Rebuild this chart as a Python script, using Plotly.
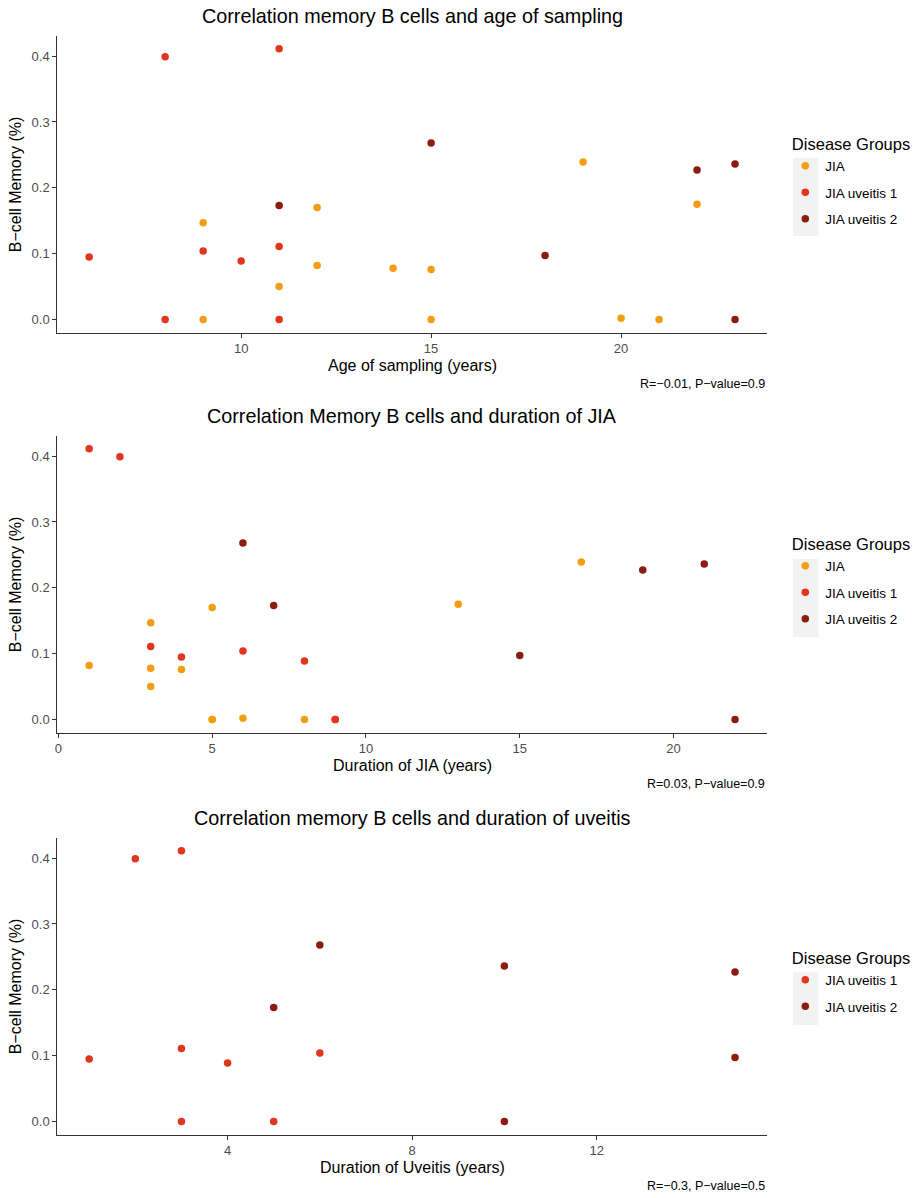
import plotly.graph_objects as go

# Patient-level measurements, grouped by disease category
groups = ["JIA", "JIA uveitis 1", "JIA uveitis 2"]
colors = {"JIA": "#F49D12", "JIA uveitis 1": "#E2351D", "JIA uveitis 2": "#8C1B11"}

memory = {
    "JIA": [0.147, 0.170, 0.082, 0.078, 0.076, 0.050, 0.239, 0.175, 0.002, 0.0, 0.0, 0.0],
    "JIA uveitis 1": [0.095, 0.399, 0.411, 0.104, 0.089, 0.111, 0.0, 0.0],
    "JIA uveitis 2": [0.268, 0.173, 0.097, 0.227, 0.236, 0.0],
}
age_sampling = {
    "JIA": [9, 12, 12, 14, 15, 11, 19, 22, 20, 9, 15, 21],
    "JIA uveitis 1": [6, 8, 11, 9, 10, 11, 8, 11],
    "JIA uveitis 2": [15, 11, 18, 22, 23, 23],
}
duration_jia = {
    "JIA": [3, 5, 1, 3, 4, 3, 17, 13, 6, 5, 8, 5],
    "JIA uveitis 1": [4, 2, 1, 6, 8, 3, 9, 9],
    "JIA uveitis 2": [6, 7, 15, 19, 21, 22],
}
duration_uveitis = {
    "JIA uveitis 1": [1, 2, 3, 6, 4, 3, 3, 5],
    "JIA uveitis 2": [6, 5, 15, 15, 10, 10],
}

titles = [
    "Correlation memory B cells and age of sampling",
    "Correlation Memory B cells and duration of JIA",
    "Correlation memory B cells and duration of uveitis",
]
x_titles = ["Age of sampling (years)", "Duration of JIA (years)", "Duration of Uveitis (years)"]
captions = ["R=\u22120.01, P\u2212value=0.9", "R=0.03, P\u2212value=0.9", "R=\u22120.3, P\u2212value=0.5"]
x_ticks = [[10, 15, 20], [0, 5, 10, 15, 20], [4, 8, 12]]
x_ranges = [[5.15, 23.85], [-0.05, 23.05], [0.3, 15.7]]
y_ticks = [0.0, 0.1, 0.2, 0.3, 0.4]
y_range = [-0.0205, 0.4305]

W, H = 917, 1198
FONT = "Liberation Sans, Arial, sans-serif"

# panel geometry in pixels
plot_left, plot_right = 55, 767
panel_tops = [36, 436, 838]
plot_h = 297
panel_offsets = [0, 400, 802]

datasets = [
    (age_sampling, groups),
    (duration_jia, groups),
    (duration_uveitis, ["JIA uveitis 1", "JIA uveitis 2"]),
]

fig = go.Figure()
annotations = []
shapes = []

for i, (xs, grp_list) in enumerate(datasets):
    n = i + 1
    sfx = "" if n == 1 else str(n)
    legend_name = "legend" if n == 1 else f"legend{n}"
    for g in grp_list:
        fig.add_trace(go.Scatter(
            x=xs[g], y=memory[g], mode="markers", name=g,
            marker=dict(color=colors[g], size=7.5, line=dict(width=0)),
            xaxis=f"x{sfx}", yaxis=f"y{sfx}",
            legend=legend_name, legendgroup=f"{g}-{n}",
        ))

    top = panel_tops[i]
    bottom = top + plot_h
    axis_common = dict(
        showline=True, linecolor="#333333", linewidth=1.2,
        ticks="outside", ticklen=3.5, tickcolor="#333333", tickwidth=1.1,
        showgrid=False, zeroline=False,
        tickfont=dict(family=FONT, size=13, color="#4D4D4D"),
    )
    fig.update_layout({
        f"xaxis{sfx}": dict(
            domain=[plot_left / W, plot_right / W], anchor=f"y{sfx}",
            range=x_ranges[i], tickvals=x_ticks[i], **axis_common,
        ),
        f"yaxis{sfx}": dict(
            domain=[1 - bottom / H, 1 - top / H], anchor=f"x{sfx}",
            range=y_range, tickvals=y_ticks, tickformat=".1f",
            title=dict(text="B\u2212cell Memory (%)", font=dict(family=FONT, size=16, color="black"), standoff=6),
            **axis_common,
        ),
    })

    off = panel_offsets[i]
    cx = (plot_left + plot_right) / 2 / W
    annotations.append(dict(
        text=titles[i], x=cx, xref="paper", xanchor="center",
        y=1 - (off + 16) / H, yref="paper", yanchor="middle", showarrow=False,
        font=dict(family=FONT, size=19.8, color="black"),
    ))
    annotations.append(dict(
        text=x_titles[i], x=cx, xref="paper", xanchor="center",
        y=1 - (bottom + 32) / H, yref="paper", yanchor="middle", showarrow=False,
        font=dict(family=FONT, size=16, color="black"),
    ))
    annotations.append(dict(
        text=captions[i], x=plot_right / W, xref="paper", xanchor="right",
        y=1 - (bottom + 51) / H, yref="paper", yanchor="middle", showarrow=False,
        font=dict(family=FONT, size=12.5, color="black"),
    ))

# legend placement (title top in pixels) and grey key panels
legend_tops = [129, 529, 943]
key_panels = [(157.7, 236), (559, 637.3), (972.3, 1025)]
for i, lt in enumerate(legend_tops):
    name = "legend" if i == 0 else f"legend{i + 1}"
    fig.update_layout({name: dict(
        x=785 / W, xanchor="left", y=1 - lt / H, yanchor="top",
        title=dict(text="\u00a0Disease Groups", font=dict(family=FONT, size=16.5, color="black")),
        font=dict(family=FONT, size=13.5, color="black"),
        tracegroupgap=6, bgcolor="rgba(0,0,0,0)", borderwidth=0,
    )})
    y0, y1 = key_panels[i]
    shapes.append(dict(
        type="rect", xref="paper", yref="paper", layer="below",
        x0=792.7 / W, x1=818.3 / W, y0=1 - y1 / H, y1=1 - y0 / H,
        fillcolor="#F2F2F2", line=dict(width=0),
    ))

fig.update_layout(
    width=W, height=H, margin=dict(l=0, r=0, t=0, b=0),
    paper_bgcolor="white", plot_bgcolor="white",
    annotations=annotations, shapes=shapes, showlegend=True,
    font=dict(family=FONT),
)

fig.write_html("out.html")
